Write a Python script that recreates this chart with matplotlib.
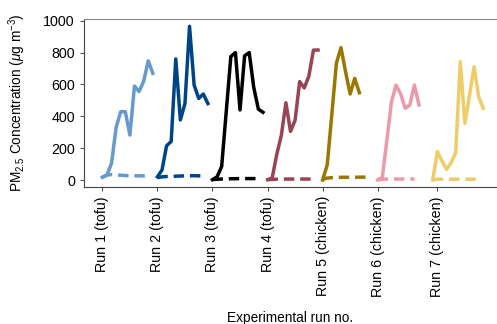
import matplotlib
matplotlib.use("Agg")
import matplotlib.pyplot as plt
import numpy as np

plt.rcParams["font.family"] = ["Liberation Sans", "DejaVu Sans"]
plt.rcParams["mathtext.fontset"] = "custom"
plt.rcParams["mathtext.rm"] = "Liberation Sans"
plt.rcParams["mathtext.it"] = "Liberation Sans:italic"

run_labels = ["Run 1 (tofu)", "Run 2 (tofu)", "Run 3 (tofu)", "Run 4 (tofu)",
              "Run 5 (chicken)", "Run 6 (chicken)", "Run 7 (chicken)"]
colors = ["#6699CC", "#004488", "#000000", "#994455", "#997700", "#EE99AA", "#EECC66"]

# PM2.5 during cooking (solid) and background / control (dashed)
cooking = [
    [17, 31, 105, 330, 429, 429, 282, 590, 555, 620, 748, 670],
    [20, 63, 215, 242, 760, 377, 480, 965, 596, 512, 540, 480],
    [2, 20, 85, 430, 775, 800, 440, 780, 800, 580, 445, 425],
    [2, 12, 160, 280, 485, 305, 375, 618, 578, 652, 816, 816],
    [0, 94, 410, 733, 831, 680, 540, 638, 548],
    [0, 15, 250, 490, 596, 540, 450, 471, 596, 471],
    [0, 178, 120, 67, 109, 171, 743, 356, 530, 711, 523, 450],
]
background = [
    [18, 32, 34, 32, 30, 28, 27, 27, 26, 26, 25],
    [15, 20, 22, 22, 24, 25, 26, 27, 27, 26, 26],
    [3, 5, 6, 7, 8, 8, 9, 9, 9, 9, 9],
    [2, 4, 5, 5, 6, 6, 6, 6, 6, 6, 6],
    [5, 12, 15, 16, 17, 17, 17, 17, 18, 18, 18],
    [3, 5, 6, 6, 6, 6, 6, 6, 6],
    [3, 5, 5, 5, 5, 5, 5, 5, 5, 5, 5],
]
samples_per_run = 12
tick_pos = [0, 12, 24, 36, 48, 60, 73]

fig = plt.figure(figsize=(4.97, 3.24), dpi=100)
ax = fig.add_axes([0.169, 0.4228, 0.831, 0.5186])

for i in range(len(run_labels)):
    start = i * samples_per_run
    x1 = start + np.arange(len(cooking[i]))
    x2 = start + np.arange(len(background[i]))
    ax.plot(x2, background[i], color=colors[i], lw=2.5, ls=(0, (3, 1.7)))
    ax.plot(x1, cooking[i], color=colors[i], lw=2.5)

ax.set_xlim(-4, 86)
ax.set_ylim(-44, 1011)
ax.set_yticks([0, 200, 400, 600, 800, 1000])
ax.set_xticks(tick_pos)
ax.set_xticklabels(run_labels, rotation=90)
ax.tick_params(axis="both", labelsize=10.3, length=3, width=0.8, color="#555555", pad=3.5)

ax.spines["right"].set_visible(False)
ax.spines["top"].set_color("#888888")
ax.spines["left"].set_color("#444444")
ax.spines["bottom"].set_color("#444444")

ax.set_ylabel(r"PM$_{2.5}$ Concentration ($\mu$g m$^{-3}$)", fontsize=9.8)
ax.yaxis.set_label_coords(-0.135, 0.5)
ax.set_xlabel("Experimental run no.", fontsize=9.8)
ax.xaxis.set_label_coords(0.5, -0.74)

fig.savefig("out.png", dpi=100)
